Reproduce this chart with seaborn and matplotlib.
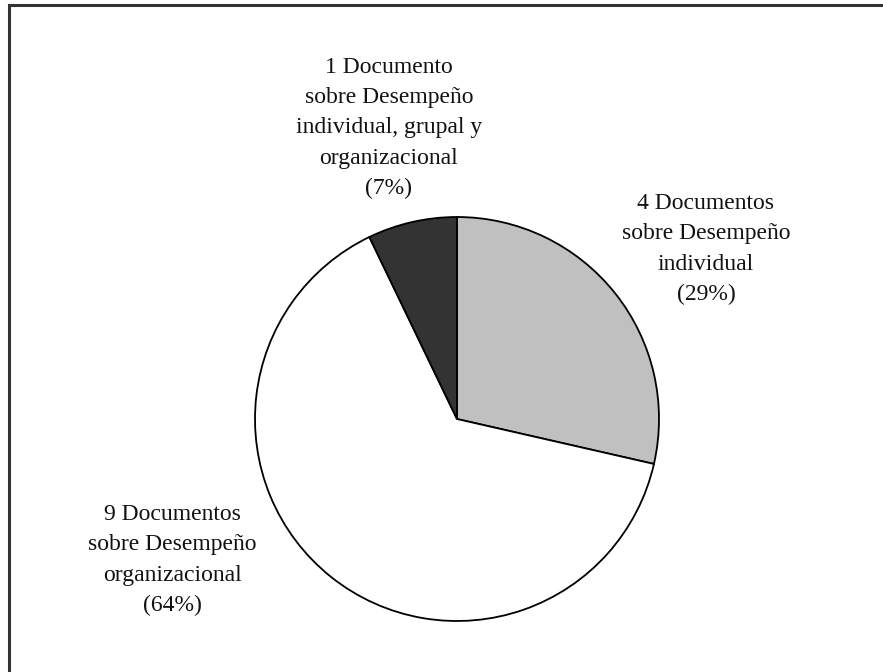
import matplotlib
matplotlib.use("Agg")
import matplotlib.pyplot as plt
from matplotlib.patches import Rectangle
import seaborn as sns

# Data
counts = [4, 9, 1]
temas = ["individual", "organizacional", "individual, grupal y\norganizacional"]
colores = ["#c0c0c0", "#ffffff", "#333333"]

total = sum(counts)
labels = []
for n, t in zip(counts, temas):
    doc = "Documento" if n == 1 else "Documentos"
    pct = round(100 * n / total)
    labels.append(f"{n} {doc}\nsobre Desempeño\n{t}\n({pct}%)")

sns.set_style("white")
plt.rcParams['font.family'] = ['Liberation Serif', 'DejaVu Serif']

fig = plt.figure(figsize=(8.83, 6.72), dpi=100)

# pie centre (457, 419) px, radius 202 px
cx, cy, r = 457, 419, 202
W, H = 883, 672
ax = fig.add_axes([(cx - r) / W, (H - cy - r) / H, 2 * r / W, 2 * r / H])

ax.pie(counts, colors=colores, startangle=90, counterclock=False,
       wedgeprops=dict(edgecolor="black", linewidth=1.3))
ax.set_xlim(-1, 1)
ax.set_ylim(-1, 1)
ax.axis("off")

# label positions in pixels
label_px = [(706, 249), (172, 560), (389, 128)]
for lab, (px, py) in zip(labels, label_px):
    ax.text((px - cx) / r, (cy - py) / r, lab, ha="center", va="center",
            fontsize=17, linespacing=1.58, color="#111111")

# frame (only top and left visible)
fig.add_artist(Rectangle((8.5 / W, -0.1), 1.2, 1 - 4.5 / H + 0.1, fill=False,
                         edgecolor="#333333", linewidth=2.2,
                         transform=fig.transFigure))

fig.savefig("out.png", dpi=100)
